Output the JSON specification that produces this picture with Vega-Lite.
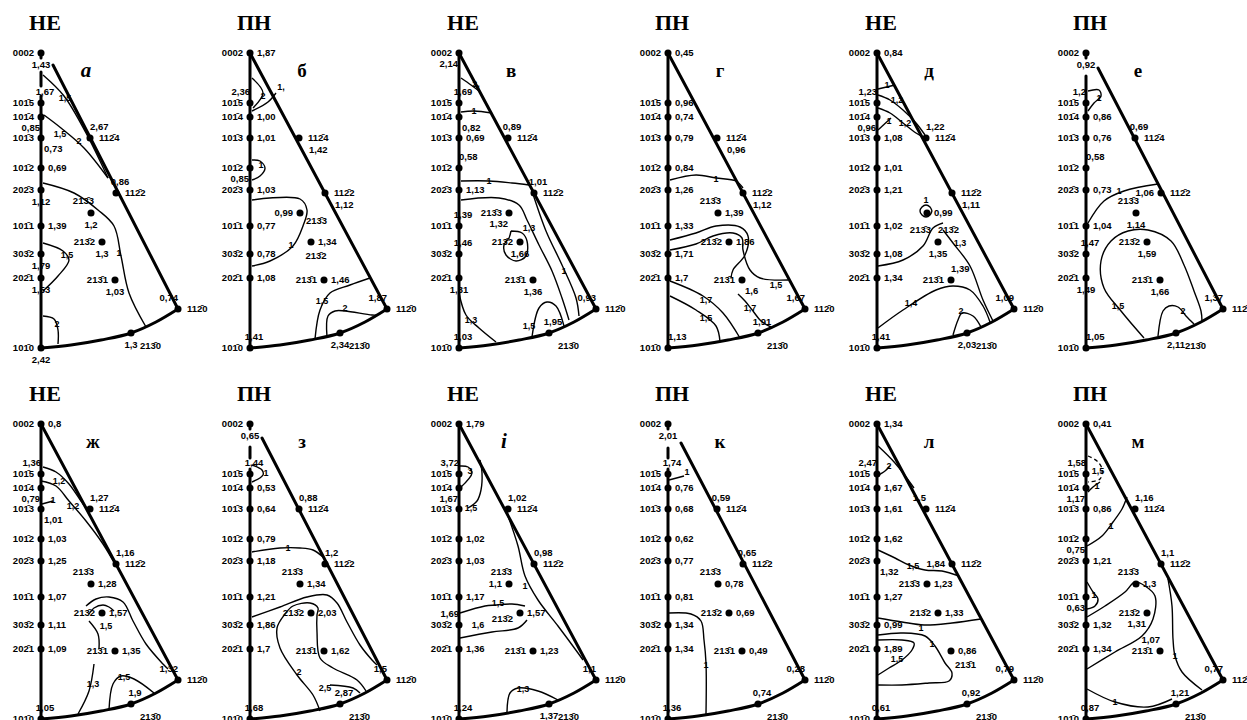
{
"$schema": "https://vega.github.io/schema/vega-lite/v6.json",
"padding": 0,
"background": "white",
"config": {"view": {"stroke": null}, "header": {"labels": false, "title": null, "labelFontSize": 0, "labelPadding": 0, "titlePadding": 0, "labelExpr": "''"}},
"datasets": {
"poles": [
{"n":"0002","pu":0,"pv":295,"lab":"0002"},
{"n":"1015","pu":0,"pv":245,"lab":"101\u03045"},
{"n":"1014","pu":0,"pv":231,"lab":"101\u03044"},
{"n":"1013","pu":0,"pv":210,"lab":"101\u03043"},
{"n":"1012","pu":0,"pv":180,"lab":"101\u03042"},
{"n":"2023","pu":0,"pv":158,"lab":"202\u03043"},
{"n":"1011","pu":0,"pv":122,"lab":"101\u03041"},
{"n":"3032","pu":0,"pv":94,"lab":"303\u03042"},
{"n":"2021","pu":0,"pv":70,"lab":"202\u03041"},
{"n":"1010","pu":0,"pv":0,"lab":"101\u03040"},
{"n":"1124","pu":49,"pv":210,"lab":"112\u03044"},
{"n":"1122","pu":75,"pv":155,"lab":"112\u03042"},
{"n":"1120","pu":137,"pv":39,"lab":"112\u03040"},
{"n":"2130","pu":90,"pv":15,"lab":"213\u03040"},
{"n":"2133","pu":50,"pv":135,"lab":"213\u03043"},
{"n":"2132","pu":61,"pv":106,"lab":"213\u03042"},
{"n":"2131","pu":74,"pv":68,"lab":"213\u03041"},
{"n":"TT","pu":4,"pv":325},
{"n":"LT","pu":52,"pv":277},
{"n":"LTI","pu":45,"pv":277}
],
"main": [
{"k":"f","g":"L","o":1,"u":0,"v":295,"p":["02","03","04","05","07","09","11","12"]},
{"k":"f","g":"L","o":2,"u":0,"v":0,"p":["02","03","04","05","07","09","11","12"]},
{"k":"f","g":"La","o":1,"u":0,"v":295,"p":["01","06","08","10"]},
{"k":"f","g":"La","o":2,"u":0,"v":290,"p":["01","06","08","10"]},
{"k":"f","g":"Lb","o":1,"u":0,"v":276,"p":["01"]},{"k":"f","g":"Lb","o":2,"u":0,"v":262,"p":["01"]},
{"k":"f","g":"Lb","o":1,"u":0,"v":272,"p":["08"]},{"k":"f","g":"Lb","o":2,"u":0,"v":261,"p":["08"]},
{"k":"f","g":"Lb","o":1,"u":0,"v":271,"p":["10"]},{"k":"f","g":"Lb","o":2,"u":0,"v":261,"p":["10"]},
{"k":"f","g":"Lc","o":1,"u":0,"v":252,"p":["01"]},{"k":"f","g":"Lc","o":1,"u":0,"v":272,"p":["06"]},{"k":"f","g":"Lc","o":1,"u":0,"v":250,"p":["08","10"]},
{"k":"f","g":"Lc","o":2,"u":0,"v":0,"p":["01","06","08","10"]},
{"k":"f","g":"D","o":1,"u":0,"v":295,"p":["02","03","04","05","07","09","11","12"]},
{"k":"f","g":"D","o":1,"u":12,"v":283,"p":["01"]},
{"k":"f","g":"D","o":1,"u":12,"v":280,"p":["06"]},
{"k":"f","g":"D","o":1,"u":12,"v":281,"p":["08"]},
{"k":"f","g":"D","o":1,"u":13,"v":276,"p":["10"]},
{"k":"f","g":"D","o":2,"u":137,"v":39,"p":["01","02","03","04","05","06","07","08","09","10","11","12"]},
{"k":"a","o":1,"u":0,"v":0,"p":["01","02","03","04","05","06","07","08","09","10","11","12"]},
{"k":"a","o":2,"u":30,"v":3,"p":["01","02","03","04","05","06","07","08","09","10","11","12"]},
{"k":"a","o":3,"u":60,"v":8,"p":["01","02","03","04","05","06","07","08","09","10","11","12"]},
{"k":"a","o":4,"u":90,"v":15,"p":["01","02","03","04","05","06","07","08","09","10","11","12"]},
{"k":"a","o":5,"u":115,"v":26,"p":["01","02","03","04","05","06","07","08","09","10","11","12"]},
{"k":"a","o":6,"u":137,"v":39,"p":["01","02","03","04","05","06","07","08","09","10","11","12"]},
{"k":"pole","n":"0002","p":["01","02","03","04","05","06","07","08","09","10","11","12"]},
{"k":"pole","n":"1015","p":["01","02","03","04","05","06","07","08","09","10","11","12"]},
{"k":"pole","n":"1014","p":["01","02","03","04","05","06","07","08","09","10","11","12"]},
{"k":"pole","n":"1013","p":["01","02","03","04","05","06","07","08","09","10","11","12"]},
{"k":"pole","n":"1012","p":["01","02","03","04","05","06","07","08","09","10","11","12"]},
{"k":"pole","n":"2023","p":["01","02","03","04","05","06","07","08","09","10","11","12"]},
{"k":"pole","n":"1011","p":["01","02","03","04","05","06","07","08","09","10","11","12"]},
{"k":"pole","n":"3032","p":["01","02","03","04","05","06","07","08","09","10","11","12"]},
{"k":"pole","n":"2021","p":["01","02","03","04","05","06","07","08","09","10","11","12"]},
{"k":"pole","n":"1010","p":["01","02","03","04","05","06","07","08","09","10","11","12"]},
{"k":"pole","n":"1124","p":["01","02","03","04","05","06","07","08","09","10","11","12"]},
{"k":"pole","n":"1122","p":["01","02","03","04","05","06","07","08","09","10","11","12"]},
{"k":"pole","n":"1120","p":["01","02","03","04","05","06","07","08","09","10","11","12"]},
{"k":"pole","n":"2130","p":["01","02","03","04","05","06","07","08","09","10","11","12"]},
{"k":"pole","n":"2133","p":["01","02","03","04","05","06","07","08","09","10","11","12"]},
{"k":"pole","n":"2132","p":["01","02","03","04","05","06","07","08","09","10","11","12"]},
{"k":"pole","n":"2131","p":["01","02","03","04","05","06","07","08","09","10","11","12"]},
{"k":"t","n":"TT","p":["01"],"t":"НЕ"},{"k":"t","n":"TT","p":["02"],"t":"ПН"},{"k":"t","n":"TT","p":["03"],"t":"НЕ"},{"k":"t","n":"TT","p":["04"],"t":"ПН"},{"k":"t","n":"TT","p":["05"],"t":"НЕ"},{"k":"t","n":"TT","p":["06"],"t":"ПН"},
{"k":"t","n":"TT","p":["07"],"t":"НЕ"},{"k":"t","n":"TT","p":["08"],"t":"ПН"},{"k":"t","n":"TT","p":["09"],"t":"НЕ"},{"k":"t","n":"TT","p":["10"],"t":"ПН"},{"k":"t","n":"TT","p":["11"],"t":"НЕ"},{"k":"t","n":"TT","p":["12"],"t":"ПН"},
{"k":"lti","n":"LTI","p":["01"],"t":"а"},{"k":"lt","n":"LT","p":["02"],"t":"б"},{"k":"lt","n":"LT","p":["03"],"t":"в"},{"k":"lt","n":"LT","p":["04"],"t":"г"},{"k":"lt","n":"LT","p":["05"],"t":"д"},{"k":"lt","n":"LT","p":["06"],"t":"е"},
{"k":"lt","n":"LT","p":["07"],"t":"ж"},{"k":"lt","n":"LT","p":["08"],"t":"з"},{"k":"lti","n":"LTI","p":["09"],"t":"і"},{"k":"lt","n":"LT","p":["10"],"t":"к"},{"k":"lt","n":"LT","p":["11"],"t":"л"},{"k":"lt","n":"LT","p":["12"],"t":"м"},

{"k":"val","p":["01"],"n":"0002","t":"1,43"},{"k":"val","p":["01"],"n":"1015","t":"1,67"},{"k":"val","p":["01"],"n":"1014","t":"0,85"},{"k":"val","p":["01"],"n":"1013","t":"0,73"},{"k":"val","p":["01"],"n":"1012","t":"0,69"},{"k":"val","p":["01"],"n":"2023","t":"1,12"},{"k":"val","p":["01"],"n":"1011","t":"1,39"},{"k":"val","p":["01"],"n":"3032","t":"1,79"},{"k":"val","p":["01"],"n":"2021","t":"1,53"},{"k":"val","p":["01"],"n":"1010","t":"2,42"},{"k":"val","p":["01"],"n":"1124","t":"2,67"},{"k":"val","p":["01"],"n":"1122","t":"0,86"},{"k":"val","p":["01"],"n":"1120","t":"0,74"},{"k":"val","p":["01"],"n":"2133","t":"1,2"},{"k":"val","p":["01"],"n":"2132","t":"1,3"},{"k":"val","p":["01"],"n":"2131","t":"1,03"},{"k":"val","p":["01"],"n":"2130","t":"1,3"},
{"k":"val","p":["02"],"n":"0002","t":"1,87"},{"k":"val","p":["02"],"n":"1015","t":"2,36"},{"k":"val","p":["02"],"n":"1014","t":"1,00"},{"k":"val","p":["02"],"n":"1013","t":"1,01"},{"k":"val","p":["02"],"n":"1012","t":"0,85"},{"k":"val","p":["02"],"n":"2023","t":"1,03"},{"k":"val","p":["02"],"n":"1011","t":"0,77"},{"k":"val","p":["02"],"n":"3032","t":"0,78"},{"k":"val","p":["02"],"n":"2021","t":"1,08"},{"k":"val","p":["02"],"n":"1010","t":"1,41"},{"k":"val","p":["02"],"n":"1124","t":"1,42"},{"k":"val","p":["02"],"n":"1122","t":"1,12"},{"k":"val","p":["02"],"n":"1120","t":"1,87"},{"k":"val","p":["02"],"n":"2133","t":"0,99"},{"k":"val","p":["02"],"n":"2132","t":"1,34"},{"k":"val","p":["02"],"n":"2131","t":"1,46"},{"k":"val","p":["02"],"n":"2130","t":"2,34"},
{"k":"val","p":["03"],"n":"0002","t":"2,14"},{"k":"val","p":["03"],"n":"1015","t":"1,69"},{"k":"val","p":["03"],"n":"1014","t":"0,82"},{"k":"val","p":["03"],"n":"1013","t":"0,69"},{"k":"val","p":["03"],"n":"1012","t":"0,58"},{"k":"val","p":["03"],"n":"2023","t":"1,13"},{"k":"val","p":["03"],"n":"1011","t":"1,39"},{"k":"val","p":["03"],"n":"3032","t":"1,46"},{"k":"val","p":["03"],"n":"2021","t":"1,31"},{"k":"val","p":["03"],"n":"1010","t":"1,03"},{"k":"val","p":["03"],"n":"1124","t":"0,89"},{"k":"val","p":["03"],"n":"1122","t":"1,01"},{"k":"val","p":["03"],"n":"1120","t":"0,93"},{"k":"val","p":["03"],"n":"2133","t":"1,32"},{"k":"val","p":["03"],"n":"2132","t":"1,66"},{"k":"val","p":["03"],"n":"2131","t":"1,36"},{"k":"val","p":["03"],"n":"2130","t":"1,95"},
{"k":"val","p":["04"],"n":"0002","t":"0,45"},{"k":"val","p":["04"],"n":"1015","t":"0,96"},{"k":"val","p":["04"],"n":"1014","t":"0,74"},{"k":"val","p":["04"],"n":"1013","t":"0,79"},{"k":"val","p":["04"],"n":"1012","t":"0,84"},{"k":"val","p":["04"],"n":"2023","t":"1,26"},{"k":"val","p":["04"],"n":"1011","t":"1,33"},{"k":"val","p":["04"],"n":"3032","t":"1,71"},{"k":"val","p":["04"],"n":"2021","t":"1,7"},{"k":"val","p":["04"],"n":"1010","t":"1,13"},{"k":"val","p":["04"],"n":"1124","t":"0,96"},{"k":"val","p":["04"],"n":"1122","t":"1,12"},{"k":"val","p":["04"],"n":"1120","t":"1,67"},{"k":"val","p":["04"],"n":"2133","t":"1,39"},{"k":"val","p":["04"],"n":"2132","t":"1,86"},{"k":"val","p":["04"],"n":"2131","t":"1,6"},{"k":"val","p":["04"],"n":"2130","t":"1,91"},
{"k":"val","p":["05"],"n":"0002","t":"0,84"},{"k":"val","p":["05"],"n":"1015","t":"1,23"},{"k":"val","p":["05"],"n":"1014","t":"0,96"},{"k":"val","p":["05"],"n":"1013","t":"1,08"},{"k":"val","p":["05"],"n":"1012","t":"1,01"},{"k":"val","p":["05"],"n":"2023","t":"1,21"},{"k":"val","p":["05"],"n":"1011","t":"1,02"},{"k":"val","p":["05"],"n":"3032","t":"1,08"},{"k":"val","p":["05"],"n":"2021","t":"1,34"},{"k":"val","p":["05"],"n":"1010","t":"1,41"},{"k":"val","p":["05"],"n":"1124","t":"1,22"},{"k":"val","p":["05"],"n":"1122","t":"1,11"},{"k":"val","p":["05"],"n":"1120","t":"1,09"},{"k":"val","p":["05"],"n":"2133","t":"0,99"},{"k":"val","p":["05"],"n":"2132","t":"1,35"},{"k":"val","p":["05"],"n":"2131","t":"1,39"},{"k":"val","p":["05"],"n":"2130","t":"2,03"},
{"k":"val","p":["06"],"n":"0002","t":"0,92"},{"k":"val","p":["06"],"n":"1015","t":"1,2"},{"k":"val","p":["06"],"n":"1014","t":"0,86"},{"k":"val","p":["06"],"n":"1013","t":"0,76"},{"k":"val","p":["06"],"n":"1012","t":"0,58"},{"k":"val","p":["06"],"n":"2023","t":"0,73"},{"k":"val","p":["06"],"n":"1011","t":"1,04"},{"k":"val","p":["06"],"n":"3032","t":"1,47"},{"k":"val","p":["06"],"n":"2021","t":"1,49"},{"k":"val","p":["06"],"n":"1010","t":"1,05"},{"k":"val","p":["06"],"n":"1124","t":"0,69"},{"k":"val","p":["06"],"n":"1122","t":"1,06"},{"k":"val","p":["06"],"n":"1120","t":"1,37"},{"k":"val","p":["06"],"n":"2133","t":"1,14"},{"k":"val","p":["06"],"n":"2132","t":"1,59"},{"k":"val","p":["06"],"n":"2131","t":"1,66"},{"k":"val","p":["06"],"n":"2130","t":"2,11"},
{"k":"val","p":["07"],"n":"0002","t":"0,8"},{"k":"val","p":["07"],"n":"1015","t":"1,36"},{"k":"val","p":["07"],"n":"1014","t":"0,79"},{"k":"val","p":["07"],"n":"1013","t":"1,01"},{"k":"val","p":["07"],"n":"1012","t":"1,03"},{"k":"val","p":["07"],"n":"2023","t":"1,25"},{"k":"val","p":["07"],"n":"1011","t":"1,07"},{"k":"val","p":["07"],"n":"3032","t":"1,11"},{"k":"val","p":["07"],"n":"2021","t":"1,09"},{"k":"val","p":["07"],"n":"1010","t":"1,05"},{"k":"val","p":["07"],"n":"1124","t":"1,27"},{"k":"val","p":["07"],"n":"1122","t":"1,16"},{"k":"val","p":["07"],"n":"1120","t":"1,32"},{"k":"val","p":["07"],"n":"2133","t":"1,28"},{"k":"val","p":["07"],"n":"2132","t":"1,57"},{"k":"val","p":["07"],"n":"2131","t":"1,35"},{"k":"val","p":["07"],"n":"2130","t":"1,9"},
{"k":"val","p":["08"],"n":"0002","t":"0,65"},{"k":"val","p":["08"],"n":"1015","t":"1,44"},{"k":"val","p":["08"],"n":"1014","t":"0,53"},{"k":"val","p":["08"],"n":"1013","t":"0,64"},{"k":"val","p":["08"],"n":"1012","t":"0,79"},{"k":"val","p":["08"],"n":"2023","t":"1,18"},{"k":"val","p":["08"],"n":"1011","t":"1,21"},{"k":"val","p":["08"],"n":"3032","t":"1,86"},{"k":"val","p":["08"],"n":"2021","t":"1,7"},{"k":"val","p":["08"],"n":"1010","t":"1,68"},{"k":"val","p":["08"],"n":"1124","t":"0,88"},{"k":"val","p":["08"],"n":"1122","t":"1,2"},{"k":"val","p":["08"],"n":"1120","t":"1,5"},{"k":"val","p":["08"],"n":"2133","t":"1,34"},{"k":"val","p":["08"],"n":"2132","t":"2,03"},{"k":"val","p":["08"],"n":"2131","t":"1,62"},{"k":"val","p":["08"],"n":"2130","t":"2,87"},
{"k":"val","p":["09"],"n":"0002","t":"1,79"},{"k":"val","p":["09"],"n":"1015","t":"3,72"},{"k":"val","p":["09"],"n":"1014","t":"1,67"},{"k":"val","p":["09"],"n":"1012","t":"1,02"},{"k":"val","p":["09"],"n":"2023","t":"1,03"},{"k":"val","p":["09"],"n":"1011","t":"1,17"},{"k":"val","p":["09"],"n":"3032","t":"1,69"},{"k":"val","p":["09"],"n":"2021","t":"1,36"},{"k":"val","p":["09"],"n":"1010","t":"1,24"},{"k":"val","p":["09"],"n":"1124","t":"1,02"},{"k":"val","p":["09"],"n":"1122","t":"0,98"},{"k":"val","p":["09"],"n":"1120","t":"1,1"},{"k":"val","p":["09"],"n":"2133","t":"1,1"},{"k":"val","p":["09"],"n":"2132","t":"1,57"},{"k":"val","p":["09"],"n":"2131","t":"1,23"},{"k":"val","p":["09"],"n":"2130","t":"1,37"},
{"k":"val","p":["10"],"n":"0002","t":"2,01"},{"k":"val","p":["10"],"n":"1015","t":"1,74"},{"k":"val","p":["10"],"n":"1014","t":"0,76"},{"k":"val","p":["10"],"n":"1013","t":"0,68"},{"k":"val","p":["10"],"n":"1012","t":"0,62"},{"k":"val","p":["10"],"n":"2023","t":"0,77"},{"k":"val","p":["10"],"n":"1011","t":"0,81"},{"k":"val","p":["10"],"n":"3032","t":"1,34"},{"k":"val","p":["10"],"n":"2021","t":"1,34"},{"k":"val","p":["10"],"n":"1010","t":"1,36"},{"k":"val","p":["10"],"n":"1124","t":"0,59"},{"k":"val","p":["10"],"n":"1122","t":"0,65"},{"k":"val","p":["10"],"n":"1120","t":"0,28"},{"k":"val","p":["10"],"n":"2133","t":"0,78"},{"k":"val","p":["10"],"n":"2132","t":"0,69"},{"k":"val","p":["10"],"n":"2131","t":"0,49"},{"k":"val","p":["10"],"n":"2130","t":"0,74"},
{"k":"val","p":["11"],"n":"0002","t":"1,34"},{"k":"val","p":["11"],"n":"1015","t":"2,47"},{"k":"val","p":["11"],"n":"1014","t":"1,67"},{"k":"val","p":["11"],"n":"1013","t":"1,61"},{"k":"val","p":["11"],"n":"1012","t":"1,62"},{"k":"val","p":["11"],"n":"2023","t":"1,32"},{"k":"val","p":["11"],"n":"1011","t":"1,27"},{"k":"val","p":["11"],"n":"3032","t":"0,99"},{"k":"val","p":["11"],"n":"2021","t":"1,89"},{"k":"val","p":["11"],"n":"1010","t":"0,61"},{"k":"val","p":["11"],"n":"1124","t":"1,5"},{"k":"val","p":["11"],"n":"1122","t":"1,84"},{"k":"val","p":["11"],"n":"1120","t":"0,79"},{"k":"val","p":["11"],"n":"2133","t":"1,23"},{"k":"val","p":["11"],"n":"2132","t":"1,33"},{"k":"val","p":["11"],"n":"2131","t":"0,86"},{"k":"val","p":["11"],"n":"2130","t":"0,92"},
{"k":"val","p":["12"],"n":"0002","t":"0,41"},{"k":"val","p":["12"],"n":"1015","t":"1,58"},{"k":"val","p":["12"],"n":"1014","t":"1,17"},{"k":"val","p":["12"],"n":"1013","t":"0,86"},{"k":"val","p":["12"],"n":"1012","t":"0,75"},{"k":"val","p":["12"],"n":"2023","t":"1,21"},{"k":"val","p":["12"],"n":"1011","t":"0,63"},{"k":"val","p":["12"],"n":"3032","t":"1,32"},{"k":"val","p":["12"],"n":"2021","t":"1,34"},{"k":"val","p":["12"],"n":"1010","t":"0,87"},{"k":"val","p":["12"],"n":"1124","t":"1,16"},{"k":"val","p":["12"],"n":"1122","t":"1,1"},{"k":"val","p":["12"],"n":"1120","t":"0,77"},{"k":"val","p":["12"],"n":"2133","t":"1,3"},{"k":"val","p":["12"],"n":"2132","t":"1,31"},{"k":"val","p":["12"],"n":"2131","t":"1,07"},{"k":"val","p":["12"],"n":"2130","t":"1,21"},

{"k":"c","p":["01"],"g":"a1","o":1,"u":2,"v":273},{"k":"c","p":["01"],"g":"a1","o":2,"u":23,"v":252},{"k":"c","p":["01"],"g":"a1","o":3,"u":45,"v":215},{"k":"c","p":["01"],"g":"a1","o":4,"u":67,"v":170},
{"k":"c","p":["01"],"g":"a2","o":1,"u":3,"v":233},{"k":"c","p":["01"],"g":"a2","o":2,"u":20,"v":220},{"k":"c","p":["01"],"g":"a2","o":3,"u":43,"v":200},{"k":"c","p":["01"],"g":"a2","o":4,"u":67,"v":170},
{"k":"c","p":["01"],"g":"a3","o":1,"u":2,"v":165},{"k":"c","p":["01"],"g":"a3","o":2,"u":33,"v":155},{"k":"c","p":["01"],"g":"a3","o":3,"u":57,"v":138},{"k":"c","p":["01"],"g":"a3","o":4,"u":73,"v":122},{"k":"c","p":["01"],"g":"a3","o":5,"u":80,"v":92},{"k":"c","p":["01"],"g":"a3","o":6,"u":88,"v":55},{"k":"c","p":["01"],"g":"a3","o":7,"u":105,"v":21},
{"k":"c","p":["01"],"g":"a4","o":1,"u":2,"v":105},{"k":"c","p":["01"],"g":"a4","o":2,"u":22,"v":97},{"k":"c","p":["01"],"g":"a4","o":3,"u":28,"v":88},{"k":"c","p":["01"],"g":"a4","o":4,"u":17,"v":72},{"k":"c","p":["01"],"g":"a4","o":5,"u":2,"v":57},
{"k":"c","p":["01"],"g":"a5","o":1,"u":2,"v":32},{"k":"c","p":["01"],"g":"a5","o":2,"u":13,"v":29},{"k":"c","p":["01"],"g":"a5","o":3,"u":17,"v":18},{"k":"c","p":["01"],"g":"a5","o":4,"u":17,"v":4},
{"k":"cl","p":["01"],"t":"1,5","u":24,"v":250},{"k":"cl","p":["01"],"t":"1,5","u":19,"v":214},{"k":"cl","p":["01"],"t":"2","u":38,"v":207},{"k":"cl","p":["01"],"t":"1","u":78,"v":95},{"k":"cl","p":["01"],"t":"1,5","u":26,"v":93},{"k":"cl","p":["01"],"t":"2","u":16,"v":24},

{"k":"c","p":["02"],"g":"b1","o":1,"u":2,"v":270},{"k":"c","p":["02"],"g":"b1","o":2,"u":13,"v":255},{"k":"c","p":["02"],"g":"b1","o":3,"u":3,"v":240},
{"k":"c","p":["02"],"g":"b2","o":1,"u":2,"v":237},{"k":"c","p":["02"],"g":"b2","o":2,"u":18,"v":246},{"k":"c","p":["02"],"g":"b2","o":3,"u":26,"v":255},
{"k":"c","p":["02"],"g":"b3","o":1,"u":2,"v":188},{"k":"c","p":["02"],"g":"b3","o":2,"u":10,"v":187},{"k":"c","p":["02"],"g":"b3","o":3,"u":15,"v":180},{"k":"c","p":["02"],"g":"b3","o":4,"u":10,"v":172},{"k":"c","p":["02"],"g":"b3","o":5,"u":2,"v":168},
{"k":"c","p":["02"],"g":"b4","o":1,"u":2,"v":148},{"k":"c","p":["02"],"g":"b4","o":2,"u":50,"v":149},{"k":"c","p":["02"],"g":"b4","o":3,"u":57,"v":138},{"k":"c","p":["02"],"g":"b4","o":4,"u":53,"v":122},{"k":"c","p":["02"],"g":"b4","o":5,"u":43,"v":102},{"k":"c","p":["02"],"g":"b4","o":6,"u":20,"v":87},{"k":"c","p":["02"],"g":"b4","o":7,"u":2,"v":82},
{"k":"c","p":["02"],"g":"b5","o":1,"u":65,"v":9},{"k":"c","p":["02"],"g":"b5","o":2,"u":70,"v":38},{"k":"c","p":["02"],"g":"b5","o":3,"u":80,"v":55},{"k":"c","p":["02"],"g":"b5","o":4,"u":100,"v":63},{"k":"c","p":["02"],"g":"b5","o":5,"u":120,"v":70},
{"k":"c","p":["02"],"g":"b6","o":1,"u":77,"v":11},{"k":"c","p":["02"],"g":"b6","o":2,"u":78,"v":32},{"k":"c","p":["02"],"g":"b6","o":3,"u":85,"v":37},{"k":"c","p":["02"],"g":"b6","o":4,"u":95,"v":37},{"k":"c","p":["02"],"g":"b6","o":5,"u":122,"v":33},{"k":"c","p":["02"],"g":"b6","o":6,"u":128,"v":33},
{"k":"cl","p":["02"],"t":"2","u":13,"v":252},{"k":"cl","p":["02"],"t":"1,","u":31,"v":261},{"k":"cl","p":["02"],"t":"1","u":11,"v":183},{"k":"cl","p":["02"],"t":"1","u":41,"v":103},{"k":"cl","p":["02"],"t":"1,5","u":72,"v":47},{"k":"cl","p":["02"],"t":"2","u":95,"v":40},

{"k":"c","p":["03"],"g":"c1","o":1,"u":2,"v":270},{"k":"c","p":["03"],"g":"c1","o":2,"u":12,"v":263},{"k":"c","p":["03"],"g":"c1","o":3,"u":20,"v":257},
{"k":"c","p":["03"],"g":"c2","o":1,"u":2,"v":236},{"k":"c","p":["03"],"g":"c2","o":2,"u":15,"v":237},{"k":"c","p":["03"],"g":"c2","o":3,"u":33,"v":235},
{"k":"c","p":["03"],"g":"c3","o":1,"u":2,"v":167},{"k":"c","p":["03"],"g":"c3","o":2,"u":30,"v":167},{"k":"c","p":["03"],"g":"c3","o":3,"u":53,"v":165},{"k":"c","p":["03"],"g":"c3","o":4,"u":70,"v":163},
{"k":"c","p":["03"],"g":"c4","o":1,"u":2,"v":148},{"k":"c","p":["03"],"g":"c4","o":2,"u":40,"v":150},{"k":"c","p":["03"],"g":"c4","o":3,"u":60,"v":143},{"k":"c","p":["03"],"g":"c4","o":4,"u":68,"v":128},{"k":"c","p":["03"],"g":"c4","o":5,"u":80,"v":103},{"k":"c","p":["03"],"g":"c4","o":6,"u":93,"v":77},{"k":"c","p":["03"],"g":"c4","o":7,"u":103,"v":50},{"k":"c","p":["03"],"g":"c4","o":8,"u":110,"v":28},
{"k":"c","p":["03"],"g":"c5","o":1,"u":52,"v":117},{"k":"c","p":["03"],"g":"c5","o":2,"u":63,"v":115},{"k":"c","p":["03"],"g":"c5","o":3,"u":68,"v":107},{"k":"c","p":["03"],"g":"c5","o":4,"u":67,"v":92},{"k":"c","p":["03"],"g":"c5","o":5,"u":57,"v":87},{"k":"c","p":["03"],"g":"c5","o":6,"u":47,"v":93},{"k":"c","p":["03"],"g":"c5","o":7,"u":45,"v":103},{"k":"c","p":["03"],"g":"c5","o":8,"u":50,"v":110},{"k":"c","p":["03"],"g":"c5","o":9,"u":52,"v":117},
{"k":"c","p":["03"],"g":"c6","o":1,"u":73,"v":157},{"k":"c","p":["03"],"g":"c6","o":2,"u":87,"v":117},{"k":"c","p":["03"],"g":"c6","o":3,"u":103,"v":83},{"k":"c","p":["03"],"g":"c6","o":4,"u":117,"v":50},{"k":"c","p":["03"],"g":"c6","o":5,"u":120,"v":32},
{"k":"c","p":["03"],"g":"c7","o":1,"u":0,"v":55},{"k":"c","p":["03"],"g":"c7","o":2,"u":7,"v":33},{"k":"c","p":["03"],"g":"c7","o":3,"u":20,"v":20},{"k":"c","p":["03"],"g":"c7","o":4,"u":37,"v":6},
{"k":"c","p":["03"],"g":"c8","o":1,"u":73,"v":11},{"k":"c","p":["03"],"g":"c8","o":2,"u":80,"v":40},{"k":"c","p":["03"],"g":"c8","o":3,"u":88,"v":46},{"k":"c","p":["03"],"g":"c8","o":4,"u":97,"v":42},{"k":"c","p":["03"],"g":"c8","o":5,"u":105,"v":22},
{"k":"cl","p":["03"],"t":"2,","u":17,"v":264},{"k":"cl","p":["03"],"t":"1","u":15,"v":237},{"k":"cl","p":["03"],"t":"1","u":30,"v":167},{"k":"cl","p":["03"],"t":"1,3","u":70,"v":120},{"k":"cl","p":["03"],"t":"1","u":105,"v":77},{"k":"cl","p":["03"],"t":"1,3","u":12,"v":28},{"k":"cl","p":["03"],"t":"1,5","u":70,"v":22},

{"k":"c","p":["04"],"g":"d1","o":1,"u":2,"v":168},{"k":"c","p":["04"],"g":"d1","o":2,"u":28,"v":173},{"k":"c","p":["04"],"g":"d1","o":3,"u":48,"v":170},{"k":"c","p":["04"],"g":"d1","o":4,"u":68,"v":167},{"k":"c","p":["04"],"g":"d1","o":5,"u":75,"v":160},
{"k":"c","p":["04"],"g":"d2","o":1,"u":2,"v":108},{"k":"c","p":["04"],"g":"d2","o":2,"u":28,"v":115},{"k":"c","p":["04"],"g":"d2","o":3,"u":48,"v":122},{"k":"c","p":["04"],"g":"d2","o":4,"u":72,"v":121},{"k":"c","p":["04"],"g":"d2","o":5,"u":80,"v":112},{"k":"c","p":["04"],"g":"d2","o":6,"u":77,"v":93},{"k":"c","p":["04"],"g":"d2","o":7,"u":65,"v":78},{"k":"c","p":["04"],"g":"d2","o":8,"u":63,"v":70},
{"k":"c","p":["04"],"g":"d3","o":1,"u":2,"v":98},{"k":"c","p":["04"],"g":"d3","o":2,"u":28,"v":104},{"k":"c","p":["04"],"g":"d3","o":3,"u":45,"v":112},{"k":"c","p":["04"],"g":"d3","o":4,"u":65,"v":115},{"k":"c","p":["04"],"g":"d3","o":5,"u":74,"v":110},{"k":"c","p":["04"],"g":"d3","o":6,"u":75,"v":98},{"k":"c","p":["04"],"g":"d3","o":7,"u":82,"v":78},{"k":"c","p":["04"],"g":"d3","o":8,"u":92,"v":70},{"k":"c","p":["04"],"g":"d3","o":9,"u":120,"v":68},
{"k":"c","p":["04"],"g":"d4","o":1,"u":2,"v":67},{"k":"c","p":["04"],"g":"d4","o":2,"u":35,"v":52},{"k":"c","p":["04"],"g":"d4","o":3,"u":55,"v":35},{"k":"c","p":["04"],"g":"d4","o":4,"u":72,"v":10},
{"k":"c","p":["04"],"g":"d5","o":1,"u":2,"v":52},{"k":"c","p":["04"],"g":"d5","o":2,"u":28,"v":38},{"k":"c","p":["04"],"g":"d5","o":3,"u":48,"v":22},{"k":"c","p":["04"],"g":"d5","o":4,"u":52,"v":6},
{"k":"c","p":["04"],"g":"d6","o":1,"u":70,"v":54},{"k":"c","p":["04"],"g":"d6","o":2,"u":77,"v":47},{"k":"c","p":["04"],"g":"d6","o":3,"u":85,"v":37},{"k":"c","p":["04"],"g":"d6","o":4,"u":93,"v":27},{"k":"c","p":["04"],"g":"d6","o":5,"u":103,"v":21},
{"k":"cl","p":["04"],"t":"1","u":48,"v":169},{"k":"cl","p":["04"],"t":"1,5","u":108,"v":63},{"k":"cl","p":["04"],"t":"1,7","u":38,"v":48},{"k":"cl","p":["04"],"t":"1,5","u":38,"v":30},{"k":"cl","p":["04"],"t":"1,7","u":82,"v":40},

{"k":"c","p":["05"],"g":"e1","o":1,"u":1,"v":259},{"k":"c","p":["05"],"g":"e1","o":2,"u":18,"v":263},
{"k":"c","p":["05"],"g":"e2","o":1,"u":1,"v":253},{"k":"c","p":["05"],"g":"e2","o":2,"u":13,"v":248},{"k":"c","p":["05"],"g":"e2","o":3,"u":26,"v":238},{"k":"c","p":["05"],"g":"e2","o":4,"u":39,"v":225},{"k":"c","p":["05"],"g":"e2","o":5,"u":48,"v":213},
{"k":"c","p":["05"],"g":"e3","o":1,"u":1,"v":240},{"k":"c","p":["05"],"g":"e3","o":2,"u":13,"v":235},{"k":"c","p":["05"],"g":"e3","o":3,"u":26,"v":225},{"k":"c","p":["05"],"g":"e3","o":4,"u":39,"v":215},{"k":"c","p":["05"],"g":"e3","o":5,"u":48,"v":210},
{"k":"c","p":["05"],"g":"e4","o":1,"u":1,"v":218},{"k":"c","p":["05"],"g":"e4","o":2,"u":14,"v":230},
{"k":"c","p":["05"],"g":"e5","o":1,"u":55,"v":137},{"k":"c","p":["05"],"g":"e5","o":2,"u":53,"v":141},{"k":"c","p":["05"],"g":"e5","o":3,"u":49,"v":143},{"k":"c","p":["05"],"g":"e5","o":4,"u":45,"v":141},{"k":"c","p":["05"],"g":"e5","o":5,"u":43,"v":137},{"k":"c","p":["05"],"g":"e5","o":6,"u":45,"v":133},{"k":"c","p":["05"],"g":"e5","o":7,"u":49,"v":131},{"k":"c","p":["05"],"g":"e5","o":8,"u":53,"v":133},{"k":"c","p":["05"],"g":"e5","o":9,"u":55,"v":137},
{"k":"c","p":["05"],"g":"e6","o":1,"u":1,"v":82},{"k":"c","p":["05"],"g":"e6","o":2,"u":26,"v":88},{"k":"c","p":["05"],"g":"e6","o":3,"u":46,"v":102},{"k":"c","p":["05"],"g":"e6","o":4,"u":56,"v":120},{"k":"c","p":["05"],"g":"e6","o":5,"u":66,"v":125},
{"k":"c","p":["05"],"g":"e7","o":1,"u":66,"v":118},{"k":"c","p":["05"],"g":"e7","o":2,"u":76,"v":105},{"k":"c","p":["05"],"g":"e7","o":3,"u":93,"v":82},{"k":"c","p":["05"],"g":"e7","o":4,"u":106,"v":48},{"k":"c","p":["05"],"g":"e7","o":5,"u":116,"v":27},
{"k":"c","p":["05"],"g":"e8","o":1,"u":1,"v":20},{"k":"c","p":["05"],"g":"e8","o":2,"u":26,"v":38},{"k":"c","p":["05"],"g":"e8","o":3,"u":59,"v":58},{"k":"c","p":["05"],"g":"e8","o":4,"u":76,"v":62},{"k":"c","p":["05"],"g":"e8","o":5,"u":93,"v":58},{"k":"c","p":["05"],"g":"e8","o":6,"u":106,"v":42},{"k":"c","p":["05"],"g":"e8","o":7,"u":113,"v":26},
{"k":"c","p":["05"],"g":"e9","o":1,"u":76,"v":13},{"k":"c","p":["05"],"g":"e9","o":2,"u":81,"v":28},{"k":"c","p":["05"],"g":"e9","o":3,"u":85,"v":35},{"k":"c","p":["05"],"g":"e9","o":4,"u":96,"v":32},{"k":"c","p":["05"],"g":"e9","o":5,"u":104,"v":21},
{"k":"cl","p":["05"],"t":"1","u":10,"v":263},{"k":"cl","p":["05"],"t":"1,2","u":20,"v":248},{"k":"cl","p":["05"],"t":"1,2","u":28,"v":225},{"k":"cl","p":["05"],"t":"1","u":12,"v":227},{"k":"cl","p":["05"],"t":"1","u":49,"v":148},{"k":"cl","p":["05"],"t":"1,3","u":83,"v":105},{"k":"cl","p":["05"],"t":"1,4","u":34,"v":45},{"k":"cl","p":["05"],"t":"2","u":84,"v":37},

{"k":"c","p":["06"],"g":"f1","o":1,"u":2,"v":257},{"k":"c","p":["06"],"g":"f1","o":2,"u":13,"v":258},{"k":"c","p":["06"],"g":"f1","o":3,"u":15,"v":252},{"k":"c","p":["06"],"g":"f1","o":4,"u":8,"v":245},{"k":"c","p":["06"],"g":"f1","o":5,"u":2,"v":237},
{"k":"c","p":["06"],"g":"f2","o":1,"u":2,"v":125},{"k":"c","p":["06"],"g":"f2","o":2,"u":18,"v":147},{"k":"c","p":["06"],"g":"f2","o":3,"u":38,"v":157},{"k":"c","p":["06"],"g":"f2","o":4,"u":72,"v":164},
{"k":"c","p":["06"],"g":"f3","o":1,"u":58,"v":10},{"k":"c","p":["06"],"g":"f3","o":2,"u":35,"v":37},{"k":"c","p":["06"],"g":"f3","o":3,"u":18,"v":60},{"k":"c","p":["06"],"g":"f3","o":4,"u":15,"v":87},{"k":"c","p":["06"],"g":"f3","o":5,"u":25,"v":107},{"k":"c","p":["06"],"g":"f3","o":6,"u":42,"v":117},{"k":"c","p":["06"],"g":"f3","o":7,"u":62,"v":118},{"k":"c","p":["06"],"g":"f3","o":8,"u":85,"v":107},{"k":"c","p":["06"],"g":"f3","o":9,"u":98,"v":83},{"k":"c","p":["06"],"g":"f3","o":10,"u":108,"v":57},{"k":"c","p":["06"],"g":"f3","o":11,"u":115,"v":37},{"k":"c","p":["06"],"g":"f3","o":12,"u":116,"v":27},
{"k":"c","p":["06"],"g":"f4","o":1,"u":72,"v":12},{"k":"c","p":["06"],"g":"f4","o":2,"u":77,"v":37},{"k":"c","p":["06"],"g":"f4","o":3,"u":83,"v":42},{"k":"c","p":["06"],"g":"f4","o":4,"u":92,"v":41},{"k":"c","p":["06"],"g":"f4","o":5,"u":100,"v":32},{"k":"c","p":["06"],"g":"f4","o":6,"u":108,"v":24},
{"k":"cl","p":["06"],"t":"1","u":13,"v":250},{"k":"cl","p":["06"],"t":"1","u":33,"v":157},{"k":"cl","p":["06"],"t":"1,5","u":32,"v":42},{"k":"cl","p":["06"],"t":"2","u":97,"v":37},

{"k":"c","p":["07"],"g":"g1","o":1,"u":2,"v":252},{"k":"c","p":["07"],"g":"g1","o":2,"u":15,"v":247},{"k":"c","p":["07"],"g":"g1","o":3,"u":28,"v":235},{"k":"c","p":["07"],"g":"g1","o":4,"u":42,"v":215},{"k":"c","p":["07"],"g":"g1","o":5,"u":48,"v":208},
{"k":"c","p":["07"],"g":"g2","o":1,"u":0,"v":238},{"k":"c","p":["07"],"g":"g2","o":2,"u":15,"v":233},{"k":"c","p":["07"],"g":"g2","o":3,"u":28,"v":218},{"k":"c","p":["07"],"g":"g2","o":4,"u":45,"v":198},{"k":"c","p":["07"],"g":"g2","o":5,"u":62,"v":175},{"k":"c","p":["07"],"g":"g2","o":6,"u":75,"v":153},
{"k":"c","p":["07"],"g":"g3","o":1,"u":1,"v":215},{"k":"c","p":["07"],"g":"g3","o":2,"u":12,"v":218},
{"k":"c","p":["07"],"g":"g4","o":1,"u":45,"v":113},{"k":"c","p":["07"],"g":"g4","o":2,"u":55,"v":120},{"k":"c","p":["07"],"g":"g4","o":3,"u":68,"v":122},{"k":"c","p":["07"],"g":"g4","o":4,"u":82,"v":117},{"k":"c","p":["07"],"g":"g4","o":5,"u":92,"v":98},{"k":"c","p":["07"],"g":"g4","o":6,"u":105,"v":75},{"k":"c","p":["07"],"g":"g4","o":7,"u":122,"v":55},{"k":"c","p":["07"],"g":"g4","o":8,"u":127,"v":50},
{"k":"c","p":["07"],"g":"g5","o":1,"u":48,"v":105},{"k":"c","p":["07"],"g":"g5","o":2,"u":53,"v":111},{"k":"c","p":["07"],"g":"g5","o":3,"u":62,"v":114},{"k":"c","p":["07"],"g":"g5","o":4,"u":68,"v":112},{"k":"c","p":["07"],"g":"g5","o":5,"u":73,"v":108},
{"k":"c","p":["07"],"g":"g6","o":1,"u":48,"v":98},{"k":"c","p":["07"],"g":"g6","o":2,"u":57,"v":85},{"k":"c","p":["07"],"g":"g6","o":3,"u":58,"v":70},
{"k":"c","p":["07"],"g":"g7","o":1,"u":53,"v":55},{"k":"c","p":["07"],"g":"g7","o":2,"u":48,"v":28},{"k":"c","p":["07"],"g":"g7","o":3,"u":37,"v":5},
{"k":"c","p":["07"],"g":"g8","o":1,"u":68,"v":9},{"k":"c","p":["07"],"g":"g8","o":2,"u":72,"v":35},{"k":"c","p":["07"],"g":"g8","o":3,"u":80,"v":43},{"k":"c","p":["07"],"g":"g8","o":4,"u":93,"v":40},{"k":"c","p":["07"],"g":"g8","o":5,"u":113,"v":26},
{"k":"cl","p":["07"],"t":"1,2","u":18,"v":238},{"k":"cl","p":["07"],"t":"1,2","u":32,"v":213},{"k":"cl","p":["07"],"t":"1","u":12,"v":219},{"k":"cl","p":["07"],"t":"1,5","u":65,"v":93},{"k":"cl","p":["07"],"t":"1,3","u":52,"v":35},{"k":"cl","p":["07"],"t":"1,5","u":83,"v":42},

{"k":"c","p":["08"],"g":"h1","o":1,"u":2,"v":254},{"k":"c","p":["08"],"g":"h1","o":2,"u":12,"v":249},{"k":"c","p":["08"],"g":"h1","o":3,"u":13,"v":244},{"k":"c","p":["08"],"g":"h1","o":4,"u":2,"v":237},
{"k":"c","p":["08"],"g":"h2","o":1,"u":2,"v":167},{"k":"c","p":["08"],"g":"h2","o":2,"u":30,"v":171},{"k":"c","p":["08"],"g":"h2","o":3,"u":50,"v":171},{"k":"c","p":["08"],"g":"h2","o":4,"u":63,"v":169},{"k":"c","p":["08"],"g":"h2","o":5,"u":73,"v":162},
{"k":"c","p":["08"],"g":"h3","o":1,"u":2,"v":102},{"k":"c","p":["08"],"g":"h3","o":2,"u":30,"v":112},{"k":"c","p":["08"],"g":"h3","o":3,"u":57,"v":122},{"k":"c","p":["08"],"g":"h3","o":4,"u":77,"v":124},{"k":"c","p":["08"],"g":"h3","o":5,"u":87,"v":116},{"k":"c","p":["08"],"g":"h3","o":6,"u":97,"v":97},{"k":"c","p":["08"],"g":"h3","o":7,"u":110,"v":74},{"k":"c","p":["08"],"g":"h3","o":8,"u":122,"v":59},{"k":"c","p":["08"],"g":"h3","o":9,"u":127,"v":54},
{"k":"c","p":["08"],"g":"h4","o":1,"u":70,"v":8},{"k":"c","p":["08"],"g":"h4","o":2,"u":63,"v":24},{"k":"c","p":["08"],"g":"h4","o":3,"u":47,"v":44},{"k":"c","p":["08"],"g":"h4","o":4,"u":30,"v":71},{"k":"c","p":["08"],"g":"h4","o":5,"u":27,"v":91},{"k":"c","p":["08"],"g":"h4","o":6,"u":35,"v":105},{"k":"c","p":["08"],"g":"h4","o":7,"u":43,"v":113},{"k":"c","p":["08"],"g":"h4","o":8,"u":60,"v":116},{"k":"c","p":["08"],"g":"h4","o":9,"u":68,"v":111},{"k":"c","p":["08"],"g":"h4","o":10,"u":67,"v":104},{"k":"c","p":["08"],"g":"h4","o":11,"u":67,"v":87},{"k":"c","p":["08"],"g":"h4","o":12,"u":70,"v":61},{"k":"c","p":["08"],"g":"h4","o":13,"u":83,"v":51},{"k":"c","p":["08"],"g":"h4","o":14,"u":107,"v":39},{"k":"c","p":["08"],"g":"h4","o":15,"u":116,"v":28},
{"k":"c","p":["08"],"g":"h6","o":1,"u":80,"v":34},{"k":"c","p":["08"],"g":"h6","o":2,"u":103,"v":31},{"k":"c","p":["08"],"g":"h6","o":3,"u":110,"v":26},
{"k":"cl","p":["08"],"t":"1","u":16,"v":246},{"k":"cl","p":["08"],"t":"1","u":38,"v":171},{"k":"cl","p":["08"],"t":"2","u":49,"v":47},{"k":"cl","p":["08"],"t":"2,5","u":75,"v":31},

{"k":"c","p":["09"],"g":"i1","o":1,"u":1,"v":253},{"k":"c","p":["09"],"g":"i1","o":2,"u":9,"v":252},{"k":"c","p":["09"],"g":"i1","o":3,"u":13,"v":246},{"k":"c","p":["09"],"g":"i1","o":4,"u":1,"v":231},
{"k":"c","p":["09"],"g":"i2","o":1,"u":9,"v":211},{"k":"c","p":["09"],"g":"i2","o":2,"u":18,"v":218},{"k":"c","p":["09"],"g":"i2","o":3,"u":22,"v":229},{"k":"c","p":["09"],"g":"i2","o":4,"u":23,"v":246},{"k":"c","p":["09"],"g":"i2","o":5,"u":21,"v":259},
{"k":"c","p":["09"],"g":"i3","o":1,"u":49,"v":203},{"k":"c","p":["09"],"g":"i3","o":2,"u":59,"v":173},{"k":"c","p":["09"],"g":"i3","o":3,"u":66,"v":143},{"k":"c","p":["09"],"g":"i3","o":4,"u":79,"v":119},{"k":"c","p":["09"],"g":"i3","o":5,"u":99,"v":93},{"k":"c","p":["09"],"g":"i3","o":6,"u":119,"v":66},{"k":"c","p":["09"],"g":"i3","o":7,"u":124,"v":59},
{"k":"c","p":["09"],"g":"i4","o":1,"u":1,"v":106},{"k":"c","p":["09"],"g":"i4","o":2,"u":26,"v":113},{"k":"c","p":["09"],"g":"i4","o":3,"u":36,"v":114},{"k":"c","p":["09"],"g":"i4","o":4,"u":53,"v":115},{"k":"c","p":["09"],"g":"i4","o":5,"u":66,"v":113},
{"k":"c","p":["09"],"g":"i5","o":1,"u":1,"v":81},{"k":"c","p":["09"],"g":"i5","o":2,"u":33,"v":87},{"k":"c","p":["09"],"g":"i5","o":3,"u":59,"v":91},{"k":"c","p":["09"],"g":"i5","o":4,"u":68,"v":99},
{"k":"c","p":["09"],"g":"i7","o":1,"u":48,"v":7},{"k":"c","p":["09"],"g":"i7","o":2,"u":51,"v":26},{"k":"c","p":["09"],"g":"i7","o":3,"u":59,"v":31},{"k":"c","p":["09"],"g":"i7","o":4,"u":79,"v":28},{"k":"c","p":["09"],"g":"i7","o":5,"u":99,"v":19},
{"k":"cl","p":["09"],"t":"3","u":11,"v":248},{"k":"cl","p":["09"],"t":"1,5","u":12,"v":211},{"k":"cl","p":["09"],"t":"1","u":66,"v":133},{"k":"cl","p":["09"],"t":"1,5","u":39,"v":116},{"k":"cl","p":["09"],"t":"1,6","u":19,"v":94},{"k":"cl","p":["09"],"t":"1,3","u":64,"v":30},

{"k":"c","p":["10"],"g":"j1","o":1,"u":1,"v":239},{"k":"c","p":["10"],"g":"j1","o":2,"u":16,"v":243},
{"k":"c","p":["10"],"g":"j2","o":1,"u":1,"v":106},{"k":"c","p":["10"],"g":"j2","o":2,"u":23,"v":105},{"k":"c","p":["10"],"g":"j2","o":3,"u":33,"v":98},{"k":"c","p":["10"],"g":"j2","o":4,"u":36,"v":79},{"k":"c","p":["10"],"g":"j2","o":5,"u":38,"v":56},{"k":"c","p":["10"],"g":"j2","o":6,"u":38,"v":5},
{"k":"cl","p":["10"],"t":"1","u":19,"v":247},{"k":"cl","p":["10"],"t":"1","u":38,"v":54},

{"k":"c","p":["11"],"g":"k1","o":1,"u":1,"v":273},{"k":"c","p":["11"],"g":"k1","o":2,"u":18,"v":256},{"k":"c","p":["11"],"g":"k1","o":3,"u":37,"v":231},
{"k":"c","p":["11"],"g":"k2","o":1,"u":0,"v":243},{"k":"c","p":["11"],"g":"k2","o":2,"u":8,"v":248},{"k":"c","p":["11"],"g":"k2","o":3,"u":13,"v":253},
{"k":"c","p":["11"],"g":"k3","o":1,"u":1,"v":169},{"k":"c","p":["11"],"g":"k3","o":2,"u":18,"v":161},{"k":"c","p":["11"],"g":"k3","o":3,"u":32,"v":154},{"k":"c","p":["11"],"g":"k3","o":4,"u":48,"v":149},{"k":"c","p":["11"],"g":"k3","o":5,"u":65,"v":148},{"k":"c","p":["11"],"g":"k3","o":6,"u":82,"v":143},
{"k":"c","p":["11"],"g":"k4","o":1,"u":1,"v":101},{"k":"c","p":["11"],"g":"k4","o":2,"u":25,"v":97},{"k":"c","p":["11"],"g":"k4","o":3,"u":47,"v":94},{"k":"c","p":["11"],"g":"k4","o":4,"u":75,"v":96},{"k":"c","p":["11"],"g":"k4","o":5,"u":104,"v":100},
{"k":"c","p":["11"],"g":"k5","o":1,"u":1,"v":84},{"k":"c","p":["11"],"g":"k5","o":2,"u":25,"v":86},{"k":"c","p":["11"],"g":"k5","o":3,"u":48,"v":83},{"k":"c","p":["11"],"g":"k5","o":4,"u":58,"v":73},{"k":"c","p":["11"],"g":"k5","o":5,"u":68,"v":56},{"k":"c","p":["11"],"g":"k5","o":6,"u":75,"v":46},{"k":"c","p":["11"],"g":"k5","o":7,"u":72,"v":38},{"k":"c","p":["11"],"g":"k5","o":8,"u":52,"v":36},{"k":"c","p":["11"],"g":"k5","o":9,"u":25,"v":34},{"k":"c","p":["11"],"g":"k5","o":10,"u":1,"v":34},
{"k":"c","p":["11"],"g":"k6","o":1,"u":1,"v":79},{"k":"c","p":["11"],"g":"k6","o":2,"u":25,"v":79},{"k":"c","p":["11"],"g":"k6","o":3,"u":37,"v":76},{"k":"c","p":["11"],"g":"k6","o":4,"u":35,"v":69},{"k":"c","p":["11"],"g":"k6","o":5,"u":25,"v":59},{"k":"c","p":["11"],"g":"k6","o":6,"u":12,"v":51},{"k":"c","p":["11"],"g":"k6","o":7,"u":1,"v":44},
{"k":"cl","p":["11"],"t":"2","u":12,"v":253},{"k":"cl","p":["11"],"t":"1,5","u":36,"v":153},{"k":"cl","p":["11"],"t":"1","u":44,"v":91},{"k":"cl","p":["11"],"t":"1","u":55,"v":75},{"k":"cl","p":["11"],"t":"1,5","u":20,"v":60},

{"k":"c","p":["12"],"g":"l1","o":1,"u":2,"v":263},{"k":"c","p":["12"],"g":"l1","o":2,"u":11,"v":258},{"k":"c","p":["12"],"g":"l1","o":3,"u":16,"v":250},{"k":"c","p":["12"],"g":"l1","o":4,"u":14,"v":240},{"k":"c","p":["12"],"g":"l1","o":5,"u":2,"v":237},
{"k":"c","p":["12"],"g":"l2","o":1,"u":2,"v":227},{"k":"c","p":["12"],"g":"l2","o":2,"u":7,"v":232},{"k":"c","p":["12"],"g":"l2","o":3,"u":14,"v":237},
{"k":"c","p":["12"],"g":"l3","o":1,"u":1,"v":173},{"k":"c","p":["12"],"g":"l3","o":2,"u":16,"v":183},{"k":"c","p":["12"],"g":"l3","o":3,"u":27,"v":197},{"k":"c","p":["12"],"g":"l3","o":4,"u":36,"v":210},{"k":"c","p":["12"],"g":"l3","o":5,"u":41,"v":222},
{"k":"c","p":["12"],"g":"l4","o":1,"u":1,"v":137},{"k":"c","p":["12"],"g":"l4","o":2,"u":7,"v":127},{"k":"c","p":["12"],"g":"l4","o":3,"u":12,"v":120},{"k":"c","p":["12"],"g":"l4","o":4,"u":9,"v":113},{"k":"c","p":["12"],"g":"l4","o":5,"u":1,"v":110},
{"k":"c","p":["12"],"g":"l5","o":1,"u":1,"v":102},{"k":"c","p":["12"],"g":"l5","o":2,"u":19,"v":113},{"k":"c","p":["12"],"g":"l5","o":3,"u":39,"v":127},{"k":"c","p":["12"],"g":"l5","o":4,"u":49,"v":137},{"k":"c","p":["12"],"g":"l5","o":5,"u":59,"v":133},{"k":"c","p":["12"],"g":"l5","o":6,"u":69,"v":123},{"k":"c","p":["12"],"g":"l5","o":7,"u":67,"v":100},{"k":"c","p":["12"],"g":"l5","o":8,"u":56,"v":83},{"k":"c","p":["12"],"g":"l5","o":9,"u":29,"v":67},{"k":"c","p":["12"],"g":"l5","o":10,"u":1,"v":50},
{"k":"c","p":["12"],"g":"l6","o":1,"u":82,"v":140},{"k":"c","p":["12"],"g":"l6","o":2,"u":86,"v":113},{"k":"c","p":["12"],"g":"l6","o":3,"u":87,"v":80},{"k":"c","p":["12"],"g":"l6","o":4,"u":89,"v":63},{"k":"c","p":["12"],"g":"l6","o":5,"u":96,"v":47},{"k":"c","p":["12"],"g":"l6","o":6,"u":116,"v":29},
{"k":"c","p":["12"],"g":"l7","o":1,"u":1,"v":30},{"k":"c","p":["12"],"g":"l7","o":2,"u":29,"v":17},{"k":"c","p":["12"],"g":"l7","o":3,"u":62,"v":12},{"k":"c","p":["12"],"g":"l7","o":4,"u":86,"v":20},
{"k":"cl","p":["12"],"t":"1,5","u":12,"v":248},{"k":"cl","p":["12"],"t":"1","u":11,"v":233},{"k":"cl","p":["12"],"t":"1","u":25,"v":193},{"k":"cl","p":["12"],"t":"1","u":8,"v":124},{"k":"cl","p":["12"],"t":"1","u":89,"v":63},{"k":"cl","p":["12"],"t":"1","u":29,"v":17}
]
},
"data": {"name": "main"},
"transform": [
  {"flatten": ["p"]},
  {"lookup": "n", "from": {"data": {"name": "poles"}, "key": "n", "fields": ["pu", "pv", "lab"]}}
],
"columns": 6,
"spacing": {"row": 6, "column": 1},
"facet": {"field": "p", "type": "ordinal", "title": null, "header": {"labels": false, "title": null, "labelFontSize": 0, "labelPadding": 0, "titlePadding": 0, "labelExpr": "''"}},
"spec": {
  "width": 207,
  "height": 356,
  "encoding": {
    "x": {"field": "u", "type": "quantitative", "scale": {"domain": [-41, 166], "nice": false, "zero": false}, "axis": null},
    "y": {"field": "v", "type": "quantitative", "scale": {"domain": [-8, 348], "nice": false, "zero": false}, "axis": null}
  },
  "layer": [
    {"transform": [{"filter": "datum.k == 'f'"}],
     "mark": {"type": "line", "color": "black", "strokeWidth": 3, "strokeCap": "round"},
     "encoding": {"detail": {"field": "g"}, "order": {"field": "o"}}},
    {"transform": [{"filter": "datum.k == 'a'"}],
     "mark": {"type": "line", "color": "black", "strokeWidth": 3, "interpolate": "monotone", "strokeCap": "round"},
     "encoding": {"order": {"field": "o"}}},
    {"transform": [{"filter": "datum.k == 'c' && datum.g != 'l1'"}],
     "mark": {"type": "line", "color": "black", "strokeWidth": 1.4, "interpolate": "catmull-rom"},
     "encoding": {"detail": {"field": "g"}, "order": {"field": "o"}}},
    {"transform": [{"filter": "datum.k == 'c' && datum.g == 'l1'"}],
     "mark": {"type": "line", "color": "black", "strokeWidth": 1.3, "strokeDash": [4, 3], "interpolate": "catmull-rom"},
     "encoding": {"detail": {"field": "g"}, "order": {"field": "o"}}},
    {"transform": [{"filter": "datum.k == 'pole'"}],
     "mark": {"type": "point", "filled": true, "color": "black", "size": 50, "opacity": 1},
     "encoding": {
       "x": {"field": "pu", "type": "quantitative", "scale": {"domain": [-41, 166], "nice": false, "zero": false}, "axis": null},
       "y": {"field": "pv", "type": "quantitative", "scale": {"domain": [-8, 348], "nice": false, "zero": false}, "axis": null}}},
    {"transform": [{"filter": "datum.k == 'pole' && (indexof(['0002','1015','1014','1013','1012','2023','1011','3032','2021','1010'], datum.n) >= 0 || (indexof(['2132','2131'], datum.n) >= 0 && indexof(['052132','022132','112131','092132'], datum.p + datum.n) < 0) || indexof(['112133','032133'], datum.p + datum.n) >= 0)"}],
     "mark": {"type": "text", "align": "right", "baseline": "middle", "dx": -7, "font": "Liberation Sans", "fontWeight": "bold", "fontSize": 9.5, "color": "black"},
     "encoding": {
       "x": {"field": "pu", "type": "quantitative", "scale": {"domain": [-41, 166], "nice": false, "zero": false}, "axis": null},
       "y": {"field": "pv", "type": "quantitative", "scale": {"domain": [-8, 348], "nice": false, "zero": false}, "axis": null},
       "text": {"field": "lab"}}},
    {"transform": [{"filter": "datum.k == 'pole' && datum.p + datum.n == '092132'"}],
     "mark": {"type": "text", "align": "right", "baseline": "middle", "dx": -7, "dy": 6, "font": "Liberation Sans", "fontWeight": "bold", "fontSize": 9.5, "color": "black"},
     "encoding": {
       "x": {"field": "pu", "type": "quantitative", "scale": {"domain": [-41, 166], "nice": false, "zero": false}, "axis": null},
       "y": {"field": "pv", "type": "quantitative", "scale": {"domain": [-8, 348], "nice": false, "zero": false}, "axis": null},
       "text": {"field": "lab"}}},
    {"transform": [{"filter": "datum.k == 'pole' && indexof(['1124','1122','1120'], datum.n) >= 0"}],
     "mark": {"type": "text", "align": "left", "baseline": "middle", "dx": 9, "font": "Liberation Sans", "fontWeight": "bold", "fontSize": 9.5, "color": "black"},
     "encoding": {
       "x": {"field": "pu", "type": "quantitative", "scale": {"domain": [-41, 166], "nice": false, "zero": false}, "axis": null},
       "y": {"field": "pv", "type": "quantitative", "scale": {"domain": [-8, 348], "nice": false, "zero": false}, "axis": null},
       "text": {"field": "lab"}}},
    {"transform": [{"filter": "datum.k == 'pole' && datum.n == '2130'"}],
     "mark": {"type": "text", "align": "left", "baseline": "middle", "dx": 9, "dy": 13, "font": "Liberation Sans", "fontWeight": "bold", "fontSize": 9.5, "color": "black"},
     "encoding": {
       "x": {"field": "pu", "type": "quantitative", "scale": {"domain": [-41, 166], "nice": false, "zero": false}, "axis": null},
       "y": {"field": "pv", "type": "quantitative", "scale": {"domain": [-8, 348], "nice": false, "zero": false}, "axis": null},
       "text": {"field": "lab"}}},
    {"transform": [{"filter": "datum.k == 'pole' && datum.n == '2133' && indexof(['05','02','11','03'], datum.p) < 0"}],
     "mark": {"type": "text", "align": "right", "baseline": "middle", "dx": 3, "dy": -12, "font": "Liberation Sans", "fontWeight": "bold", "fontSize": 9.5, "color": "black"},
     "encoding": {
       "x": {"field": "pu", "type": "quantitative", "scale": {"domain": [-41, 166], "nice": false, "zero": false}, "axis": null},
       "y": {"field": "pv", "type": "quantitative", "scale": {"domain": [-8, 348], "nice": false, "zero": false}, "axis": null},
       "text": {"field": "lab"}}},
    {"transform": [{"filter": "datum.k == 'pole' && datum.p + datum.n == '052133'"}],
     "mark": {"type": "text", "align": "right", "baseline": "middle", "dx": 4, "dy": 17, "font": "Liberation Sans", "fontWeight": "bold", "fontSize": 9.5, "color": "black"},
     "encoding": {
       "x": {"field": "pu", "type": "quantitative", "scale": {"domain": [-41, 166], "nice": false, "zero": false}, "axis": null},
       "y": {"field": "pv", "type": "quantitative", "scale": {"domain": [-8, 348], "nice": false, "zero": false}, "axis": null},
       "text": {"field": "lab"}}},
    {"transform": [{"filter": "datum.k == 'pole' && datum.p + datum.n == '052132'"}],
     "mark": {"type": "text", "align": "left", "baseline": "middle", "dx": 0, "dy": -12, "font": "Liberation Sans", "fontWeight": "bold", "fontSize": 9.5, "color": "black"},
     "encoding": {
       "x": {"field": "pu", "type": "quantitative", "scale": {"domain": [-41, 166], "nice": false, "zero": false}, "axis": null},
       "y": {"field": "pv", "type": "quantitative", "scale": {"domain": [-8, 348], "nice": false, "zero": false}, "axis": null},
       "text": {"field": "lab"}}},
    {"transform": [{"filter": "datum.k == 'pole' && datum.p + datum.n == '022133'"}],
     "mark": {"type": "text", "align": "left", "baseline": "middle", "dx": 6, "dy": 8, "font": "Liberation Sans", "fontWeight": "bold", "fontSize": 9.5, "color": "black"},
     "encoding": {
       "x": {"field": "pu", "type": "quantitative", "scale": {"domain": [-41, 166], "nice": false, "zero": false}, "axis": null},
       "y": {"field": "pv", "type": "quantitative", "scale": {"domain": [-8, 348], "nice": false, "zero": false}, "axis": null},
       "text": {"field": "lab"}}},
    {"transform": [{"filter": "datum.k == 'pole' && datum.p + datum.n == '022132'"}],
     "mark": {"type": "text", "align": "center", "baseline": "middle", "dx": 5, "dy": 14, "font": "Liberation Sans", "fontWeight": "bold", "fontSize": 9.5, "color": "black"},
     "encoding": {
       "x": {"field": "pu", "type": "quantitative", "scale": {"domain": [-41, 166], "nice": false, "zero": false}, "axis": null},
       "y": {"field": "pv", "type": "quantitative", "scale": {"domain": [-8, 348], "nice": false, "zero": false}, "axis": null},
       "text": {"field": "lab"}}},
    {"transform": [{"filter": "datum.k == 'pole' && datum.p + datum.n == '112131'"}],
     "mark": {"type": "text", "align": "left", "baseline": "middle", "dx": 4, "dy": 14, "font": "Liberation Sans", "fontWeight": "bold", "fontSize": 9.5, "color": "black"},
     "encoding": {
       "x": {"field": "pu", "type": "quantitative", "scale": {"domain": [-41, 166], "nice": false, "zero": false}, "axis": null},
       "y": {"field": "pv", "type": "quantitative", "scale": {"domain": [-8, 348], "nice": false, "zero": false}, "axis": null},
       "text": {"field": "lab"}}},
    {"transform": [{"filter": "datum.k == 'val' && indexof(['010002','012023','013032','012021','011010','012133','012132','012131','012130','022130','032021','032132','032131','052132','052130','060002','062021','062133','062132','062131','062130','080002','092130','100002','011015','011122','021010','031015','031011','033032','031010','031124','031122','032130','042130','051010','063032','061124','071010','072130','081015','081010','082130','091010','101015','101010','101124','101122','102130','111010','112130','121010','122130','011120','021015','021120','031120','041120','051015','051120','061015','061120','071015','071120','081120','091015','093032','091120','101120','111015','111124','111120','121015','121120','122131','011124','031012','041010','051124','052131','061012','061010','071124','071122','081124','081122','091124','091122','121124','121122','011014','021012','030002','032133','051014','071014','091014','121014','121012','121011','122132','011013','031014','042131','071013','112023','021124','021122','041124','041122','051122','022133','061122','092133','111122'], datum.p + datum.n) < 0"}],
     "mark": {"type": "text", "align": "left", "baseline": "middle", "dx": 7, "font": "Liberation Sans", "fontWeight": "bold", "fontSize": 9.5, "color": "black"},
     "encoding": {
       "x": {"field": "pu", "type": "quantitative", "scale": {"domain": [-41, 166], "nice": false, "zero": false}, "axis": null},
       "y": {"field": "pv", "type": "quantitative", "scale": {"domain": [-8, 348], "nice": false, "zero": false}, "axis": null},
       "text": {"field": "t"}}},
    {"transform": [{"filter": "datum.k == 'val' && indexof(['010002','012023','013032','012021','011010','012133','012132','012131','012130','022130','032021','032132','032131','052132','052130','060002','062021','062133','062132','062131','062130','080002','092130','100002'], datum.p + datum.n) >= 0"}],
     "mark": {"type": "text", "align": "center", "baseline": "middle", "dy": 12, "font": "Liberation Sans", "fontWeight": "bold", "fontSize": 9.5, "color": "black"},
     "encoding": {
       "x": {"field": "pu", "type": "quantitative", "scale": {"domain": [-41, 166], "nice": false, "zero": false}, "axis": null},
       "y": {"field": "pv", "type": "quantitative", "scale": {"domain": [-8, 348], "nice": false, "zero": false}, "axis": null},
       "text": {"field": "t"}}},
    {"transform": [{"filter": "datum.k == 'val' && indexof(['011015','011122','021010','031015','031011','033032','031010','031124','031122','032130','042130','051010','063032','061124','071010','072130','081015','081010','082130','091010','101015','101010','101124','101122','102130','111010','112130','121010','122130'], datum.p + datum.n) >= 0"}],
     "mark": {"type": "text", "align": "center", "baseline": "middle", "dy": -11, "dx": 4, "font": "Liberation Sans", "fontWeight": "bold", "fontSize": 9.5, "color": "black"},
     "encoding": {
       "x": {"field": "pu", "type": "quantitative", "scale": {"domain": [-41, 166], "nice": false, "zero": false}, "axis": null},
       "y": {"field": "pv", "type": "quantitative", "scale": {"domain": [-8, 348], "nice": false, "zero": false}, "axis": null},
       "text": {"field": "t"}}},
    {"transform": [{"filter": "datum.k == 'val' && indexof(['011120','021015','021120','031120','041120','051015','051120','061015','061120','071015','071120','081120','091015','093032','091120','101120','111015','111124','111120','121015','121120','122131'], datum.p + datum.n) >= 0"}],
     "mark": {"type": "text", "align": "right", "baseline": "middle", "dx": 0, "dy": -11, "font": "Liberation Sans", "fontWeight": "bold", "fontSize": 9.5, "color": "black"},
     "encoding": {
       "x": {"field": "pu", "type": "quantitative", "scale": {"domain": [-41, 166], "nice": false, "zero": false}, "axis": null},
       "y": {"field": "pv", "type": "quantitative", "scale": {"domain": [-8, 348], "nice": false, "zero": false}, "axis": null},
       "text": {"field": "t"}}},
    {"transform": [{"filter": "datum.k == 'val' && indexof(['011124','031012','041010','051124','052131','061012','061010','071124','071122','081124','081122','091124','091122','121124','121122'], datum.p + datum.n) >= 0"}],
     "mark": {"type": "text", "align": "left", "baseline": "middle", "dx": 0, "dy": -11, "font": "Liberation Sans", "fontWeight": "bold", "fontSize": 9.5, "color": "black"},
     "encoding": {
       "x": {"field": "pu", "type": "quantitative", "scale": {"domain": [-41, 166], "nice": false, "zero": false}, "axis": null},
       "y": {"field": "pv", "type": "quantitative", "scale": {"domain": [-8, 348], "nice": false, "zero": false}, "axis": null},
       "text": {"field": "t"}}},
    {"transform": [{"filter": "datum.k == 'val' && indexof(['011014','021012','030002','032133','051014','071014','091014','121014','121012','121011','122132'], datum.p + datum.n) >= 0"}],
     "mark": {"type": "text", "align": "right", "baseline": "middle", "dx": -1, "dy": 11, "font": "Liberation Sans", "fontWeight": "bold", "fontSize": 9.5, "color": "black"},
     "encoding": {
       "x": {"field": "pu", "type": "quantitative", "scale": {"domain": [-41, 166], "nice": false, "zero": false}, "axis": null},
       "y": {"field": "pv", "type": "quantitative", "scale": {"domain": [-8, 348], "nice": false, "zero": false}, "axis": null},
       "text": {"field": "t"}}},
    {"transform": [{"filter": "datum.k == 'val' && indexof(['011013','031014','042131','071013','112023'], datum.p + datum.n) >= 0"}],
     "mark": {"type": "text", "align": "left", "baseline": "middle", "dx": 3, "dy": 11, "font": "Liberation Sans", "fontWeight": "bold", "fontSize": 9.5, "color": "black"},
     "encoding": {
       "x": {"field": "pu", "type": "quantitative", "scale": {"domain": [-41, 166], "nice": false, "zero": false}, "axis": null},
       "y": {"field": "pv", "type": "quantitative", "scale": {"domain": [-8, 348], "nice": false, "zero": false}, "axis": null},
       "text": {"field": "t"}}},
    {"transform": [{"filter": "datum.k == 'val' && indexof(['021124','021122','041124','041122','051122'], datum.p + datum.n) >= 0"}],
     "mark": {"type": "text", "align": "left", "baseline": "middle", "dx": 10, "dy": 12, "font": "Liberation Sans", "fontWeight": "bold", "fontSize": 9.5, "color": "black"},
     "encoding": {
       "x": {"field": "pu", "type": "quantitative", "scale": {"domain": [-41, 166], "nice": false, "zero": false}, "axis": null},
       "y": {"field": "pv", "type": "quantitative", "scale": {"domain": [-8, 348], "nice": false, "zero": false}, "axis": null},
       "text": {"field": "t"}}},
    {"transform": [{"filter": "datum.k == 'val' && indexof(['022133','061122','092133','111122'], datum.p + datum.n) >= 0"}],
     "mark": {"type": "text", "align": "right", "baseline": "middle", "dx": -7, "font": "Liberation Sans", "fontWeight": "bold", "fontSize": 9.5, "color": "black"},
     "encoding": {
       "x": {"field": "pu", "type": "quantitative", "scale": {"domain": [-41, 166], "nice": false, "zero": false}, "axis": null},
       "y": {"field": "pv", "type": "quantitative", "scale": {"domain": [-8, 348], "nice": false, "zero": false}, "axis": null},
       "text": {"field": "t"}}},
    {"transform": [{"filter": "datum.k == 'cl'"}],
     "mark": {"type": "text", "align": "center", "baseline": "middle", "font": "Liberation Sans", "fontWeight": "bold", "fontSize": 9, "color": "black"},
     "encoding": {"text": {"field": "t"}}},
    {"transform": [{"filter": "datum.k == 't'"}],
     "mark": {"type": "text", "align": "center", "baseline": "middle", "font": "Liberation Serif", "fontWeight": "bold", "fontSize": 22, "color": "black"},
     "encoding": {
       "x": {"field": "pu", "type": "quantitative", "scale": {"domain": [-41, 166], "nice": false, "zero": false}, "axis": null},
       "y": {"field": "pv", "type": "quantitative", "scale": {"domain": [-8, 348], "nice": false, "zero": false}, "axis": null},
       "text": {"field": "t"}}},
    {"transform": [{"filter": "datum.k == 'lt'"}],
     "mark": {"type": "text", "align": "center", "baseline": "middle", "font": "Liberation Serif", "fontWeight": "bold", "fontSize": 19, "color": "black"},
     "encoding": {
       "x": {"field": "pu", "type": "quantitative", "scale": {"domain": [-41, 166], "nice": false, "zero": false}, "axis": null},
       "y": {"field": "pv", "type": "quantitative", "scale": {"domain": [-8, 348], "nice": false, "zero": false}, "axis": null},
       "text": {"field": "t"}}},
    {"transform": [{"filter": "datum.k == 'lti'"}],
     "mark": {"type": "text", "align": "center", "baseline": "middle", "font": "Liberation Serif", "fontWeight": "bold", "fontStyle": "italic", "fontSize": 21, "color": "black"},
     "encoding": {
       "x": {"field": "pu", "type": "quantitative", "scale": {"domain": [-41, 166], "nice": false, "zero": false}, "axis": null},
       "y": {"field": "pv", "type": "quantitative", "scale": {"domain": [-8, 348], "nice": false, "zero": false}, "axis": null},
       "text": {"field": "t"}}}
  ]
}
}
